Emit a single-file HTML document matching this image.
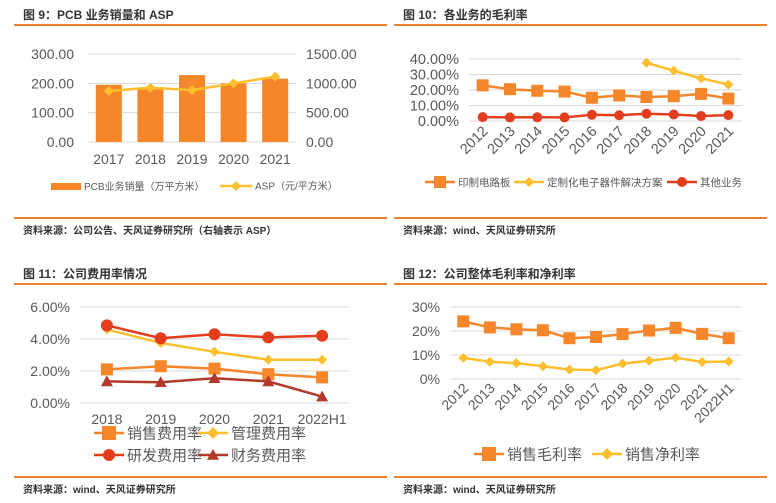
<!DOCTYPE html>
<html><head><meta charset="utf-8">
<style>
body{margin:0;background:#fff;width:776px;height:503px;overflow:hidden;font-family:"Liberation Sans","Noto Sans CJK SC",sans-serif}
svg{position:absolute;left:0;top:0}
</style></head>
<body>
<svg id="s" width="776" height="503" xmlns="http://www.w3.org/2000/svg" font-family="Liberation Sans, Noto Sans CJK SC, sans-serif"></svg>
<script>
// Chart 9 data
const c1Years=["2017","2018","2019","2020","2021"];
const c1Volume=[195,180,228,200,216];
const c1Asp=[870,925,885,1000,1115];
const c1LeftTicks=["0.00","100.00","200.00","300.00"];
const c1RightTicks=["0.00","500.00","1000.00","1500.00"];
// Chart 10 data
const c2Years=["2012","2013","2014","2015","2016","2017","2018","2019","2020","2021"];
const c2Pcb=[23,20.5,19.5,19,15,16.5,15.5,16,17.5,14.5];
const c2Custom=[null,null,null,null,null,null,37.5,32.5,27.5,23.5];
const c2Other=[2.5,2.3,2.4,2.3,4,3.7,4.7,4.2,3.2,3.8];
const c2Ticks=["0.00%","10.00%","20.00%","30.00%","40.00%"];
// Chart 11 data
const c3Years=["2018","2019","2020","2021","2022H1"];
const c3Sales=[2.1,2.3,2.15,1.8,1.6];
const c3Admin=[4.6,3.75,3.2,2.7,2.7];
const c3Rd=[4.85,4.05,4.3,4.1,4.2];
const c3Fin=[1.35,1.3,1.55,1.35,0.4];
const c3Ticks=["0.00%","2.00%","4.00%","6.00%"];
// Chart 12 data
const c4Years=["2012","2013","2014","2015","2016","2017","2018","2019","2020","2021","2022H1"];
const c4Gross=[24,21.5,20.7,20.3,17,17.5,18.7,20.2,21.3,18.8,17];
const c4Net=[8.8,7.2,6.6,5.3,3.9,3.7,6.4,7.6,8.9,7.1,7.3];
const c4Ticks=["0%","10%","20%","30%"];

const S=document.getElementById('s');const NS="http://www.w3.org/2000/svg";
function mk(tag,at,parent,txt){const e=document.createElementNS(NS,tag);for(const k in at)e.setAttribute(k,at[k]);if(txt!=null)e.textContent=txt;(parent||S).appendChild(e);return e;}
const OR="#F5862A",YE="#FDBF2D",RE="#E23E1E",DR="#B23A2C",GR="#595959";

function frame(x,title,srcTxt,topY,name){
  const g=mk('g',{});
  
  
  const t=mk('text',{x:x+9,y:topY+19,'font-size':12,'font-weight':'bold',fill:'#333'},g,title);
  
  mk('rect',{x:x,y:topY+24,width:373,height:2,fill:'#EE7F2D'},g);
  mk('rect',{x:x,y:topY+217,width:373,height:2,fill:'#EE7F2D'},g);
  const s=mk('text',{x:x+9,y:topY+234,'font-size':10,'font-weight':'bold',fill:'#333'},g,srcTxt);
  
  return g;
}
function marker(g,type,cx,cy,col,sz){
  let e;
  if(type==='sq')e=mk('rect',{x:cx-sz,y:cy-sz,width:2*sz,height:2*sz,fill:col},g);
  else if(type==='di')e=mk('polygon',{points:`${cx},${cy-sz} ${cx+sz},${cy} ${cx},${cy+sz} ${cx-sz},${cy}`,fill:col},g);
  else if(type==='ci')e=mk('circle',{cx:cx,cy:cy,r:sz,fill:col},g);
  else e=mk('polygon',{points:`${cx},${cy-sz} ${cx+sz},${cy+sz*0.8} ${cx-sz},${cy+sz*0.8}`,fill:col},g);
  
}
function series(g,xs,vals,yf,col,type,sz,name){
  const sg=mk('g',{},g);
  let pts=[];vals.forEach((v,i)=>{if(v!=null)pts.push([xs(i),yf(v)]);});
  mk('polyline',{points:pts.map(p=>p.join(',')).join(' '),fill:'none',stroke:col,'stroke-width':2.5},sg);
  pts.forEach(p=>marker(sg,type,p[0],p[1],col,sz));
}
function legendItem(g,x,y,col,type,sz,label,fs,len){
  const lg=mk('g',{},g);
  mk('line',{x1:x,y1:y,x2:x+len,y2:y,stroke:col,'stroke-width':2.5},lg);
  marker(lg,type,x+len/2,y,col,sz);
  mk('text',{x:x+len+3,y:y+fs*0.36,'font-size':fs,fill:GR},lg,label);
}

// ---- Chart 9
{
const g=frame(14,"图 9：PCB 业务销量和 ASP","资料来源：公司公告、天风证券研究所（右轴表示 ASP）",0,'chart-pcb-volume-asp');
const x0=88,x1=296,yb=142,yt=54,n=c1Years.length,bw=(x1-x0)/n;
const yL=v=>yb-(v/300)*(yb-yt),yR=v=>yb-(v/1500)*(yb-yt),xc=i=>x0+bw*(i+0.5);
c1LeftTicks.forEach((t,i)=>{const y=yb-i*(yb-yt)/3;mk('line',{x1:x0,x2:x1,y1:y,y2:y,stroke:'#D9D9D9'},g);
 mk('text',{x:74,y:y+5,'font-size':14,fill:GR,'text-anchor':'end'},g,t);
 mk('text',{x:306,y:y+5,'font-size':14,fill:GR},g,c1RightTicks[i]);});
c1Volume.forEach((v,i)=>{const r=mk('rect',{x:xc(i)-13,y:yL(v),width:26,height:yb-yL(v),fill:OR},g);
 });
series(g,xc,c1Asp,yR,YE,'di',5,'asp-line');
c1Years.forEach((t,i)=>mk('text',{x:xc(i),y:164,'font-size':14,fill:GR,'text-anchor':'middle'},g,t));
const lb=mk('rect',{x:51,y:183,width:30,height:7,fill:OR},g);
mk('text',{x:84,y:190,'font-size':10,fill:GR},g,"PCB业务销量（万平方米）");
legendItem(g,220,186,YE,'di',5,"ASP（元/平方米）",10,32);
}
// ---- Chart 10
{
const g=frame(394,"图 10：各业务的毛利率","资料来源：wind、天风证券研究所",0,'chart-segment-margin');
const x0=469,x1=742,yb=121,yt=59,n=c2Years.length,bw=(x1-x0)/n;
const y=v=>yb-(v/40)*(yb-yt),xc=i=>x0+bw*(i+0.5);
c2Ticks.forEach((t,i)=>{const yy=yb-i*(yb-yt)/4;mk('line',{x1:x0,x2:x1,y1:yy,y2:yy,stroke:'#D9D9D9'},g);
 mk('text',{x:459,y:yy+5,'font-size':14.5,fill:GR,'text-anchor':'end'},g,t);});
series(g,xc,c2Pcb,y,OR,'sq',6,'pcb-line');
series(g,xc,c2Custom,y,YE,'di',5,'custom-solution-line');
series(g,xc,c2Other,y,RE,'ci',5,'other-business-line');
c2Years.forEach((t,i)=>mk('text',{x:xc(i)+6,y:132,'font-size':14.5,fill:GR,'text-anchor':'end',transform:`rotate(-45 ${xc(i)+6} 132)`},g,t));
legendItem(g,425,182,OR,'sq',6,"印制电路板",10.5,30);
legendItem(g,514,182,YE,'di',5,"定制化电子器件解决方案",10.5,30);
legendItem(g,667,182,RE,'ci',5,"其他业务",10.5,30);
}
// ---- Chart 11
{
const g=frame(14,"图 11：公司费用率情况","资料来源：wind、天风证券研究所",259,'chart-expense-ratio');
const x0=80,x1=349,yb=403,yt=307,n=c3Years.length,bw=(x1-x0)/n;
const y=v=>yb-(v/6)*(yb-yt),xc=i=>x0+bw*(i+0.5);
c3Ticks.forEach((t,i)=>{const yy=yb-i*(yb-yt)/3;mk('line',{x1:x0,x2:x1,y1:yy,y2:yy,stroke:'#D9D9D9'},g);
 mk('text',{x:70,y:yy+5,'font-size':14,fill:GR,'text-anchor':'end'},g,t);});
series(g,xc,c3Sales,y,OR,'sq',6,'selling-expense-line');
series(g,xc,c3Admin,y,YE,'di',5,'admin-expense-line');
series(g,xc,c3Rd,y,RE,'ci',6,'rd-expense-line');
series(g,xc,c3Fin,y,DR,'tr',6,'finance-expense-line');
c3Years.forEach((t,i)=>mk('text',{x:xc(i),y:424,'font-size':14,fill:GR,'text-anchor':'middle'},g,t));
legendItem(g,94,433,OR,'sq',7,"销售费用率",15,30);
legendItem(g,198,433,YE,'di',6,"管理费用率",15,30);
legendItem(g,94,455,RE,'ci',6,"研发费用率",15,30);
legendItem(g,198,455,DR,'tr',6,"财务费用率",15,30);
}
// ---- Chart 12
{
const g=frame(394,"图 12：公司整体毛利率和净利率","资料来源：wind、天风证券研究所",259,'chart-gross-net-margin');
const x0=450,x1=742,yb=379,yt=307,n=c4Years.length,bw=(x1-x0)/n;
const y=v=>yb-(v/30)*(yb-yt),xc=i=>x0+bw*(i+0.5);
c4Ticks.forEach((t,i)=>{const yy=yb-i*(yb-yt)/3;mk('line',{x1:x0,x2:x1,y1:yy,y2:yy,stroke:'#D9D9D9'},g);
 mk('text',{x:440,y:yy+5,'font-size':14,fill:GR,'text-anchor':'end'},g,t);});
series(g,xc,c4Gross,y,OR,'sq',6,'gross-margin-line');
series(g,xc,c4Net,y,YE,'di',5,'net-margin-line');
c4Years.forEach((t,i)=>mk('text',{x:xc(i)+6,y:389,'font-size':14,fill:GR,'text-anchor':'end',transform:`rotate(-45 ${xc(i)+6} 389)`},g,t));
legendItem(g,474,454,OR,'sq',7,"销售毛利率",15,30);
legendItem(g,592,454,YE,'di',6,"销售净利率",15,30);
}
</script>
</body></html>
